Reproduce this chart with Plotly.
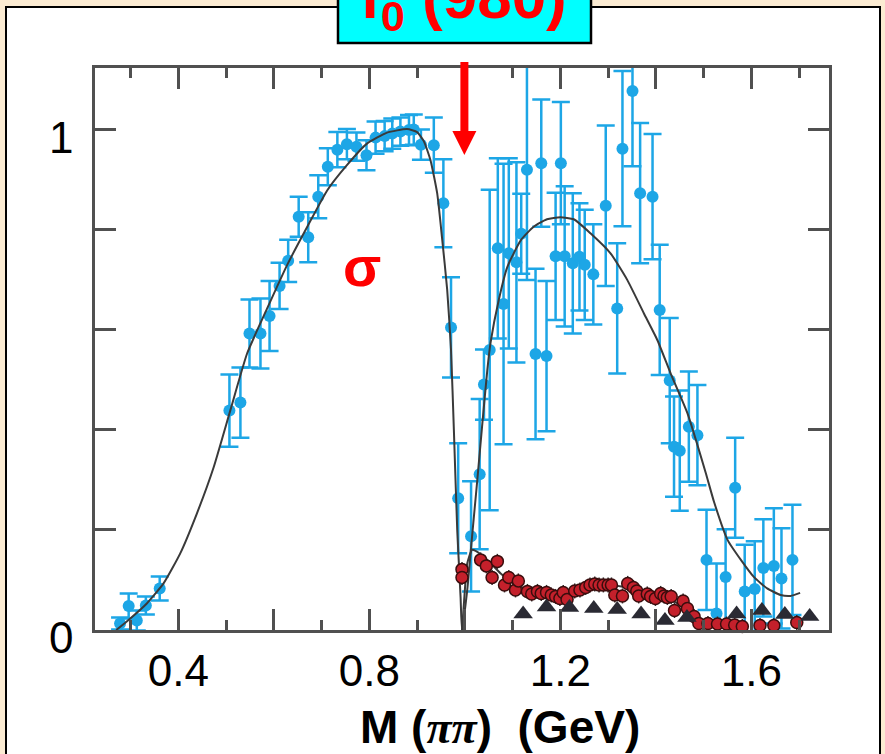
import plotly.graph_objects as go

# ---------------- data ----------------
blue_x = [0.278, 0.296, 0.313, 0.332, 0.361, 0.507, 0.530, 0.549, 0.572, 0.591, 0.612, 0.630,
          0.652, 0.672, 0.693, 0.713, 0.733, 0.753, 0.773, 0.794, 0.813, 0.832, 0.848, 0.865,
          0.883, 0.893, 0.908, 0.935, 0.955, 0.971, 0.986, 1.013, 1.031, 1.040, 1.052, 1.069,
          1.081, 1.092, 1.108, 1.118, 1.130, 1.148, 1.160, 1.171, 1.190, 1.201, 1.209, 1.226,
          1.240, 1.251, 1.269, 1.295, 1.319, 1.330, 1.351, 1.367, 1.393, 1.408, 1.429, 1.438,
          1.450, 1.469, 1.487, 1.506, 1.527, 1.546, 1.566, 1.586, 1.607, 1.625, 1.647, 1.663, 1.686]
blue_y = [0.013, 0.048, 0.019, 0.049, 0.083, 0.438, 0.454, 0.592, 0.592, 0.627, 0.687, 0.737,
          0.825, 0.784, 0.865, 0.925, 0.959, 0.970, 0.965, 0.948, 0.983, 0.986, 0.991, 0.995,
          0.998, 0.999, 0.969, 0.968, 0.852, 0.604, 0.263, 0.187, 0.311, 0.490, 0.559, 0.762,
          0.651, 0.752, 0.734, 0.791, 0.919, 0.551, 0.932, 0.547, 0.746, 0.932, 0.746, 0.732,
          0.745, 0.729, 0.710, 0.847, 0.642, 0.961, 1.076, 0.872, 0.865, 0.639, 0.498, 0.366,
          0.358, 0.406, 0.389, 0.140, 0.033, 0.106, 0.284, 0.077, 0.082, 0.124, 0.128, 0.103, 0.140]
blue_err = [0.012, 0.025, 0.020, 0.018, 0.024, 0.072, 0.070, 0.068, 0.070, 0.070, 0.046, 0.042,
            0.040, 0.050, 0.043, 0.037, 0.035, 0.030, 0.028, 0.030, 0.032, 0.030, 0.030, 0.028,
            0.030, 0.030, 0.030, 0.055, 0.088, 0.100, 0.110, 0.110, 0.150, 0.070, 0.320, 0.180,
            0.280, 0.190, 0.200, 0.080, 0.220, 0.170, 0.127, 0.150, 0.127, 0.122, 0.140, 0.140,
            0.107, 0.110, 0.100, 0.160, 0.130, 0.155, 0.150, 0.140, 0.125, 0.130, 0.125, 0.100,
            0.120, 0.110, 0.100, 0.100, 0.100, 0.095, 0.100, 0.093, 0.095, 0.097, 0.115, 0.100, 0.110]

red_x = [0.994, 0.994, 1.033, 1.045, 1.057, 1.068, 1.083, 1.092, 1.106, 1.112, 1.131, 1.140,
         1.152, 1.160, 1.171, 1.181, 1.190, 1.199, 1.206, 1.214, 1.230, 1.241, 1.253, 1.262,
         1.272, 1.281, 1.290, 1.300, 1.307, 1.314, 1.330, 1.341, 1.353, 1.360, 1.364, 1.382,
         1.389, 1.399, 1.410, 1.417, 1.424, 1.432, 1.439, 1.457, 1.466, 1.480, 1.490, 1.509,
         1.529, 1.548, 1.565, 1.581, 1.618, 1.647, 1.695]
red_y = [0.121, 0.105, 0.140, 0.128, 0.105, 0.137, 0.090, 0.105, 0.080, 0.098, 0.077, 0.072,
         0.077, 0.073, 0.075, 0.070, 0.067, 0.063, 0.075, 0.061, 0.078, 0.080, 0.085, 0.090,
         0.092, 0.090, 0.090, 0.090, 0.090, 0.070, 0.068, 0.093, 0.085, 0.078, 0.068, 0.072,
         0.067, 0.063, 0.073, 0.068, 0.065, 0.067, 0.039, 0.058, 0.043, 0.027, 0.013, 0.013,
         0.012, 0.012, 0.010, 0.007, 0.009, 0.009, 0.015]
red_err = 0.015

tri_x = [1.122, 1.171, 1.219, 1.270, 1.319, 1.369, 1.419, 1.465, 1.569, 1.622, 1.670, 1.722]
tri_y = [0.032, 0.046, 0.045, 0.043, 0.041, 0.032, 0.019, 0.025, 0.032, 0.039, 0.031, 0.027]

fit_x = [0.270, 0.292, 0.334, 0.369, 0.404, 0.439, 0.474, 0.509, 0.544, 0.586, 0.628, 0.670,
         0.712, 0.753, 0.795, 0.837, 0.879, 0.900, 0.914, 0.928, 0.942, 0.952, 0.963, 0.971,
         0.977, 0.984, 0.991, 0.994, 1.005, 1.015, 1.026, 1.036, 1.047, 1.054, 1.071, 1.089,
         1.117, 1.144, 1.172, 1.200, 1.228, 1.263, 1.305, 1.340, 1.375, 1.403, 1.431, 1.466,
         1.504, 1.522, 1.550, 1.578, 1.605, 1.633, 1.661, 1.682, 1.702]
fit_y = [0.000, 0.017, 0.053, 0.093, 0.153, 0.233, 0.325, 0.439, 0.552, 0.642, 0.729, 0.805,
         0.878, 0.928, 0.971, 0.993, 1.000, 0.994, 0.976, 0.938, 0.872, 0.785, 0.679, 0.559,
         0.399, 0.200, 0.066, 0.000, 0.080, 0.186, 0.299, 0.406, 0.519, 0.575, 0.659, 0.725,
         0.778, 0.805, 0.820, 0.824, 0.820, 0.792, 0.752, 0.699, 0.632, 0.579, 0.512, 0.433,
         0.315, 0.255, 0.180, 0.140, 0.106, 0.083, 0.070, 0.068, 0.074]

fit2_x = [0.994, 0.998, 1.005, 1.015, 1.026, 1.047, 1.075, 1.102, 1.144, 1.186, 1.228, 1.260,
          1.300, 1.340, 1.380, 1.420, 1.460, 1.490, 1.520]
fit2_y = [0.000, 0.053, 0.133, 0.160, 0.156, 0.140, 0.113, 0.093, 0.076, 0.070, 0.075, 0.085,
          0.090, 0.085, 0.075, 0.065, 0.045, 0.020, 0.008]

x_ticks = [0.4, 0.6, 0.8, 1.0, 1.2, 1.4, 1.6]
x_ticktext = ["0.4", " ", "0.8", " ", "1.2", " ", "1.6"]
x_minor = [0.3, 0.5, 0.7, 0.9, 1.1, 1.3, 1.5, 1.7]
y_ticks = [0.0, 0.2, 0.4, 0.6, 0.8, 1.0]
y_ticktext = ["0", " ", " ", " ", " ", "1"]

# ---------------- geometry ----------------
W, H = 885, 754
ML, MR, MT, MB = 95, 56, 68, 124
PW, PH = W - ML - MR, H - MT - MB


def px(xp):
    return (xp - ML) / PW


def py(yp):
    return (H - MB - yp) / PH


BLUE = "#1DA6E6"
FRAME = "#505050"

fig = go.Figure()

fig.add_trace(go.Scatter(
    x=blue_x, y=blue_y, mode="markers",
    marker=dict(color=BLUE, size=12, line=dict(width=0)),
    error_y=dict(type="data", array=blue_err, color=BLUE, thickness=2.5, width=9),
    cliponaxis=True, showlegend=False, hoverinfo="skip"))

fig.add_trace(go.Scatter(
    x=fit_x, y=fit_y, mode="lines",
    line=dict(color="#3a3a3a", width=2, shape="spline", smoothing=0.5),
    showlegend=False, hoverinfo="skip"))

fig.add_trace(go.Scatter(
    x=fit2_x, y=fit2_y, mode="lines",
    line=dict(color="#3a3a3a", width=2, shape="spline", smoothing=0.5),
    showlegend=False, hoverinfo="skip"))

fig.add_trace(go.Scatter(
    x=red_x, y=red_y, mode="markers",
    marker=dict(color="#C4202B", size=12, line=dict(color="#3a0d0d", width=1.5)),
    error_y=dict(type="constant", value=red_err, color="#333333", thickness=1.5, width=0),
    cliponaxis=False, showlegend=False, hoverinfo="skip"))

fig.add_trace(go.Scatter(
    x=tri_x, y=tri_y, mode="markers",
    marker=dict(color="#2a2a33", size=17, symbol="triangle-up", line=dict(width=0)),
    cliponaxis=False, showlegend=False, hoverinfo="skip"))

shapes = [
    # white slide panel
    dict(type="rect", xref="paper", yref="paper", layer="below",
         x0=px(6), x1=px(880), y0=py(790), y1=py(7),
         fillcolor="white", line=dict(color="black", width=2)),
    # cyan title box
    dict(type="rect", xref="paper", yref="paper", layer="above",
         x0=px(338), x1=px(591), y0=py(43), y1=py(-20),
         fillcolor="#00FFFF", line=dict(color="black", width=2.5)),
    # red arrow shaft
    dict(type="line", xref="paper", yref="paper", layer="above",
         x0=px(464.4), x1=px(464.4), y0=py(62), y1=py(135),
         line=dict(color="#FF0000", width=8)),
    # red arrow head
    dict(type="path", xref="paper", yref="paper", layer="above",
         path=f"M {px(452.4)},{py(131)} L {px(476.4)},{py(131)} L {px(464.4)},{py(155)} Z",
         fillcolor="#FF0000", line=dict(color="#FF0000", width=0)),
]

annotations = [
    dict(xref="paper", yref="paper", x=px(463), y=py(1), xanchor="center", yanchor="middle",
         text="<b>f<sub>0</sub> (980)</b>", showarrow=False,
         font=dict(family="Liberation Sans, Arial", size=62, color="#FF0000")),
    dict(xref="x", yref="y", x=0.785, y=0.725, xanchor="center", yanchor="middle",
         text="<b>σ</b>", showarrow=False,
         font=dict(family="Liberation Sans, Arial", size=56, color="#FF0000")),
    dict(xref="paper", yref="paper", x=px(500), y=py(727), xanchor="center", yanchor="middle",
         text='<b>M (<span style="font-family:Liberation Serif"><i>ππ</i></span>)\u00a0\u00a0(GeV)</b>',
         showarrow=False,
         font=dict(family="Liberation Sans, Arial", size=46, color="black")),
]

fig.update_layout(
    template="none",
    width=W, height=H,
    margin=dict(l=ML, r=MR, t=MT, b=MB, pad=0),
    paper_bgcolor="#FBEBD2",
    plot_bgcolor="white",
    showlegend=False,
    shapes=shapes,
    annotations=annotations,
    xaxis=dict(
        range=[0.2255, 1.7625], autorange=False, automargin=False,
        showgrid=False, zeroline=False,
        showline=True, linecolor=FRAME, linewidth=2.5, mirror="ticks",
        tickmode="array", tickvals=x_ticks, ticktext=x_ticktext,
        ticks="inside", ticklen=21, tickwidth=2.5, tickcolor=FRAME,
        minor=dict(tickmode="array", tickvals=x_minor, ticks="inside", ticklen=10,
                   tickwidth=2.5, tickcolor=FRAME, showgrid=False),
        tickfont=dict(family="Liberation Sans, Arial", size=44, color="black"),
        ticklabelstandoff=0,
    ),
    yaxis=dict(
        range=[0, 1.122], autorange=False, automargin=False,
        showgrid=False, zeroline=False,
        showline=True, linecolor=FRAME, linewidth=2.5, mirror="ticks",
        tickmode="array", tickvals=y_ticks, ticktext=y_ticktext,
        ticks="inside", ticklen=21, tickwidth=2.5, tickcolor=FRAME,
        tickfont=dict(family="Liberation Sans, Arial", size=44, color="black"),
        ticklabelstandoff=10, ticklabelshift=8,
    ),
)

fig.write_html("out.html", include_plotlyjs=True, full_html=True,
               config={"displayModeBar": False},
               post_script="document.body.style.margin='0';document.body.style.overflow='hidden';")
